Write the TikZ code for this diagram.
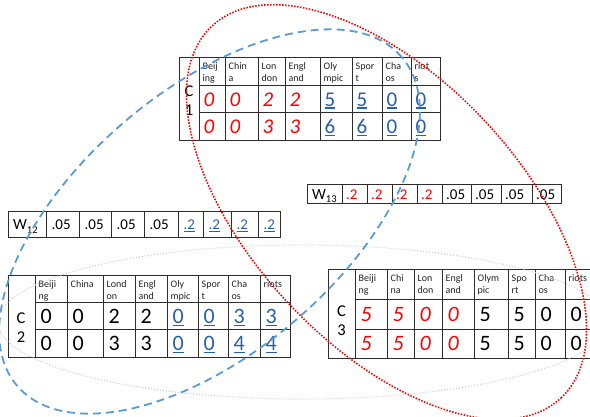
\documentclass[tikz,border=0pt]{standalone}
\usepackage{fontspec}
\setmainfont{Carlito}
\definecolor{numblue}{RGB}{38,94,176}
\definecolor{ellblue}{RGB}{91,155,213}
\definecolor{ellgray}{RGB}{205,205,205}
\definecolor{gridc}{RGB}{45,45,45}
\definecolor{txtc}{RGB}{35,35,35}
\newcommand\uln[1]{\setbox0\hbox{#1}\rlap{\rule[-0.12em]{\wd0}{0.065em}}\box0}
\newcommand\rnum[1]{{\color{red}\itshape #1}}
\newcommand\rup[1]{{\color{red}#1}}
\newcommand\bnum[1]{{\color{numblue}\uln{#1}}}
\tikzset{
  gridline/.style={draw=gridc, line width=1pt},
  hdr/.style={anchor=north west, inner sep=0pt, align=left, text=txtc, font=\fontsize{10}{12}\selectfont},
  numc/.style={anchor=base west, inner sep=0pt},
  lbl/.style={inner sep=0pt, align=center, font=\fontsize{16.5}{19}\selectfont},
  wtxt/.style={anchor=base west, inner sep=0pt, font=\fontsize{15.5}{18}\selectfont},
  wnum/.style={anchor=base west, inner sep=0pt, font=\fontsize{15}{18}\selectfont},
  redell/.style={draw=red, line width=1.6pt, dash pattern=on 1.5pt off 1.5pt},
  blueell/.style={draw=ellblue, line width=1.8pt, dash pattern=on 8pt off 5pt},
  grayell/.style={draw=ellgray, line width=1.1pt, dash pattern=on 1pt off 2pt}
}
\begin{document}
\begin{tikzpicture}[x=1pt,y=-1pt]
\useasboundingbox (0,0) rectangle (590,417);
\clip (0,0) rectangle (590,417);

% ---------- C1 ----------
\draw[gridline] (179,58) rectangle (440,141);
\draw[gridline] (199,86) -- (440,86) (199,113) -- (440,113);
\foreach \x in {199,225,258,285,320,352,382,411} \draw[gridline] (\x,58) -- (\x,141);
\node[lbl] (c1lab) at (189,101) {C\\1};
\foreach \x/\t [count=\i] in {199/{Beij\\ing},225/{Chin\\a},258/{Lon\\don},285/{Engl\\and},320/{Oly\\mpic},352/{Spor\\t},382/{Cha\\os},411/{riot\\s}}
  \node[hdr] (c1h\i) at (\x+3.5,61.5) {\rule{0pt}{8pt}\t};
\foreach \x/\t [count=\i] in {199/{\rnum0},225/{\rnum0},258/{\rnum2},285/{\rnum2},320/{\bnum5},352/{\bnum5},382/{\bnum0},411/{\bnum0}}
  \node[numc,font=\fontsize{21}{24}\selectfont] (c1a\i) at (\x+4.5,106.1) {\t};
\foreach \x/\t [count=\i] in {199/{\rnum0},225/{\rnum0},258/{\rnum3},285/{\rnum3},320/{\bnum6},352/{\bnum6},382/{\bnum0},411/{\bnum0}}
  \node[numc,font=\fontsize{21}{24}\selectfont] (c1b\i) at (\x+4.5,133.6) {\t};

% ---------- W13 ----------
\draw[gridline] (307,185) rectangle (561,204);
\foreach \x in {342,367,392,417,442,471,501,532} \draw[gridline] (\x,185) -- (\x,204);
\node[wtxt] (w13l) at (312,199.5) {W\raisebox{-3.5pt}{\fontsize{10.5}{12}\selectfont 13}};
\foreach \x/\t [count=\i] in {342/{\rup{.2}},367/{\rup{.2}},392/{\rup{.2}},417/{\rup{.2}},442/{.05},471/{.05},501/{.05},532/{.05}}
  \node[wnum] (w13n\i) at (\x+4,199.5) {\t};

% ---------- W12 ----------
\draw[gridline] (8,212) rectangle (280,238);
\foreach \x in {46,79,111,144,178,203,231,258} \draw[gridline] (\x,212) -- (\x,238);
\node[wtxt] (w12l) at (13,229.7) {W\raisebox{-3.5pt}{\fontsize{10.5}{12}\selectfont 12}};
\foreach \x/\t [count=\i] in {46/{.05},79/{.05},111/{.05},144/{.05},178/{\bnum{.2}},203/{\bnum{.2}},231/{\bnum{.2}},258/{\bnum{.2}}}
  \node[wnum] (w12n\i) at (\x+5.5,229.7) {\t};

% ---------- C2 ----------
\draw[gridline] (8,276) rectangle (290,357);
\draw[gridline] (35,303) -- (290,303) (35,330) -- (290,330);
\foreach \x in {35,67,103,135,167,198,228,260} \draw[gridline] (\x,276) -- (\x,357);
\node[lbl] (c2lab) at (21,327.5) {C\\2};
\foreach \x/\t [count=\i] in {35/{Beiji\\ng},67/{China},103/{Lond\\on},135/{Engl\\and},167/{Oly\\mpic},198/{Spor\\t},228/{Cha\\os},260/{riots}}
  \node[hdr] (c2h\i) at (\x+3.5,279) {\rule{0pt}{8pt}\t};
\foreach \x/\t [count=\i] in {35/0,67/0,103/2,135/2,167/{\bnum0},198/{\bnum0},228/{\bnum3},260/{\bnum3}}
  \node[numc,font=\fontsize{22}{24}\selectfont] (c2a\i) at (\x+5.5,323.5) {\t};
\foreach \x/\t [count=\i] in {35/0,67/0,103/3,135/3,167/{\bnum0},198/{\bnum0},228/{\bnum4},260/{\bnum4}}
  \node[numc,font=\fontsize{22}{24}\selectfont] (c2b\i) at (\x+5.5,350.5) {\t};

% ---------- C3 ----------
\draw[gridline] (328,270) rectangle (596,358);
\draw[gridline] (355,300) -- (596,300) (355,330) -- (596,330);
\foreach \x in {355,387,414,442,474,508,535,565} \draw[gridline] (\x,270) -- (\x,358);
\node[lbl] (c3lab) at (341.5,321) {C\\3};
\foreach \x/\t [count=\i] in {355/{Beiji\\ng},387/{Chi\\na},414/{Lon\\don},442/{Engl\\and},474/{Olym\\pic},508/{Spo\\rt},535/{Cha\\os},565/{riots}}
  \node[hdr] (c3h\i) at (\x+3.5,273.5) {\rule{0pt}{8pt}\t};
\foreach \x/\t [count=\i] in {355/{\rnum5},387/{\rnum5},414/{\rnum0},442/{\rnum0},474/5,508/5,535/0,565/0}
  \node[numc,font=\fontsize{22}{24}\selectfont] (c3a\i) at (\x+5.5,322) {\t};
\foreach \x/\t [count=\i] in {355/{\rnum5},387/{\rnum5},414/{\rnum0},442/{\rnum0},474/5,508/5,535/0,565/0}
  \node[numc,font=\fontsize{22}{24}\selectfont] (c3b\i) at (\x+5.5,351) {\t};

% ---------- ellipses ----------
\draw[grayell] (302,322) ellipse [x radius=304pt, y radius=77pt];
\draw[blueell] (209.5,221.5) ellipse [x radius=253pt, y radius=131pt, rotate=40.5];
\draw[redell] (386.5,212) ellipse [x radius=255pt, y radius=134pt, rotate=-46.8];
\end{tikzpicture}
\end{document}
